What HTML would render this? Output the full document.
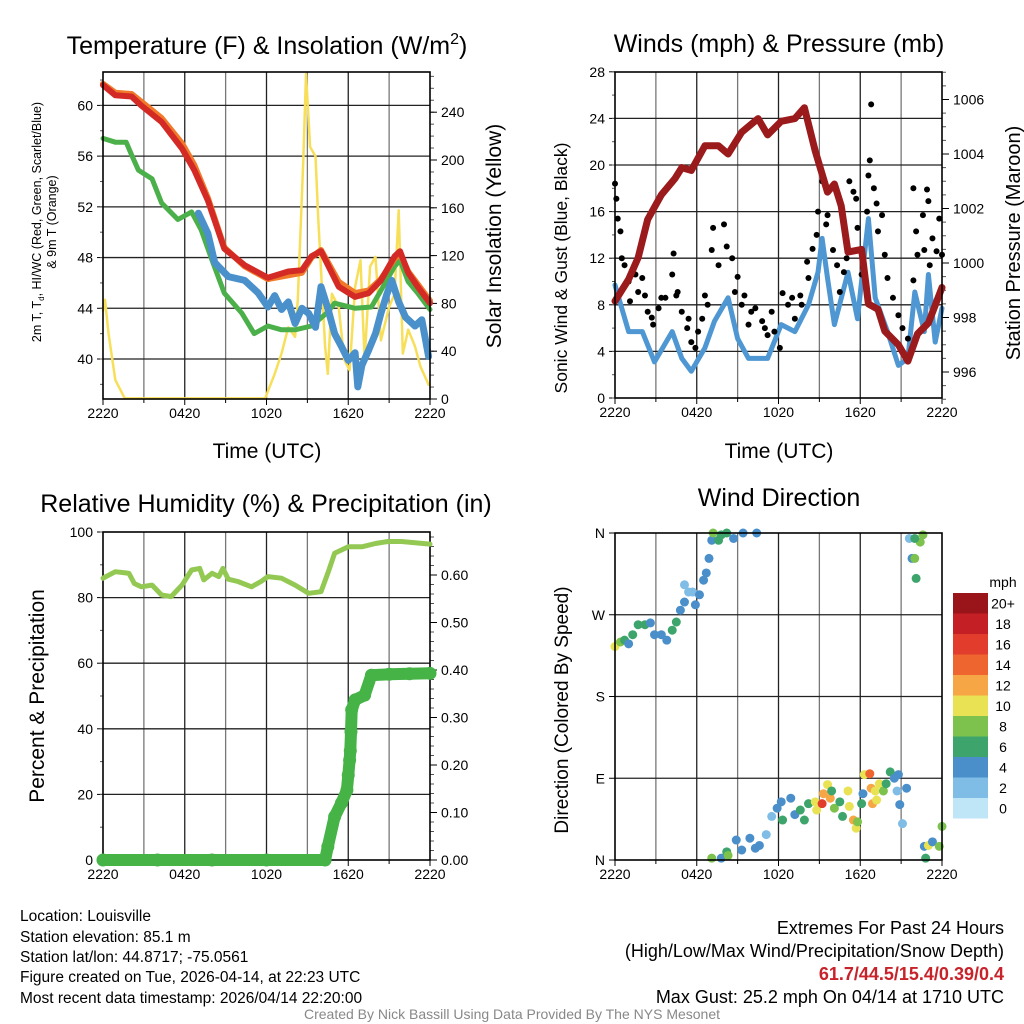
<!DOCTYPE html>
<html><head><meta charset="utf-8"><style>
html,body{margin:0;padding:0;background:#fff;}
svg{display:block;font-family:"Liberation Sans",sans-serif;}
</style></head><body>
<svg id="chart" width="1024" height="1024" viewBox="0 0 1024 1024" xmlns="http://www.w3.org/2000/svg"></svg>
<script>
// ---------- DATA ----------
const timeTickLabels = ["2220","0420","1020","1620","2220"];
// Panel 1: temperature (hours since 2220, value F)
const tempHours = [0,0.9,2.1,2.8,4.3,5.8,6.7,7.7,8.9,10.4,12.1,13.6,14.6,15.3,16.0,17.3,18.5,19.5,20.4,21.4,21.8,22.4,23.1,24];
const tempVals  = [61.6,60.8,60.7,60.0,58.7,56.6,54.9,52.5,48.7,47.4,46.4,46.9,47.0,48.1,48.5,45.7,44.9,45.2,46.2,48.1,48.5,46.8,45.7,44.4];
const temp9mVals= [61.7,61.0,60.9,60.3,59.0,57.0,55.3,52.7,48.8,47.3,46.3,46.6,46.8,48.0,48.6,46.1,45.2,45.4,46.3,47.9,48.3,46.9,45.9,44.6];
const dewHours = [0,0.9,1.7,2.1,2.6,3.6,4.3,5.5,6.5,7.2,8.0,8.9,10.2,11.1,12.1,13.1,14.1,15.3,16.5,17.0,18.5,19.7,20.4,21.4,21.8,22.4,23.1,24];
const dewVals  = [57.4,57.1,57.1,56.1,54.9,54.2,52.3,51.0,51.6,50.2,47.8,45.2,43.6,42.0,42.6,42.3,42.3,42.6,43.7,44.4,44.0,44.1,45.4,47.3,47.8,46.1,45.2,43.9];
const wcHours = [7.0,7.7,8.2,9.2,10.4,11.4,12.1,12.6,13.1,13.6,14.1,14.6,15.1,15.6,16.0,16.5,17.0,17.5,18.0,18.5,18.7,19.0,19.5,20.0,20.4,20.8,21.2,21.7,22.2,22.9,23.4,23.9];
const wcVals  = [51.5,49.9,47.6,46.5,46.2,45.2,44.1,45.0,43.9,44.5,42.8,44.0,43.6,42.5,45.7,44.0,42.0,41.0,39.9,40.5,37.8,39.5,40.7,42.0,43.6,45.0,46.2,44.5,43.3,42.6,43.1,40.2];
const solarHours = [0,0.15,0.4,0.9,1.6,11.9,12.6,13.1,13.6,14.1,14.3,14.7,14.9,15.2,15.6,15.8,16.3,16.5,16.8,17.3,17.7,18.1,18.5,18.9,19.2,19.6,20.0,20.4,21.0,21.4,21.7,22.0,22.4,22.9,23.3,23.9];
const solarVals  = [74,83,55,16,0.5,0.5,21,38,60,52,83,200,272,211,203,150,44,21,88,77,33,24,94,116,33,111,119,49,77,88,158,38,58,44,27,12];
// Panel 2: winds & pressure
const presHours = [0,1.0,1.7,2.4,3.4,4.4,4.9,5.6,6.6,7.6,8.3,9.3,10.5,11.2,12.2,13.2,13.9,14.7,15.6,16.1,16.6,17.1,18.1,18.6,19.3,19.8,20.8,21.5,22.2,23.0,24];
const presVals  = [998.6,999.4,1000.2,1001.6,1002.5,1003.1,1003.5,1003.4,1004.3,1004.3,1004.0,1004.8,1005.3,1004.7,1005.2,1005.3,1005.7,1004.1,1002.6,1002.9,1002.1,1000.4,1000.5,998.5,998.3,997.5,997.0,996.4,997.4,997.8,999.1];
const windHours = [0,0.5,1.0,2.0,2.9,4.2,4.9,5.6,6.6,7.3,8.3,9.0,9.8,11.2,12.2,13.2,14.2,14.9,15.2,15.6,16.1,17.1,17.8,18.6,19.1,20.0,20.8,21.5,22.0,22.7,23.0,23.5,24];
const windVals  = [9.7,7.7,5.7,5.7,3.1,5.7,3.4,2.3,4.3,6.6,8.6,5.1,3.4,3.4,6.3,5.7,8.0,10.8,13.7,10.3,6.3,10.8,6.8,15.4,8.6,5.7,2.8,3.4,9.1,5.7,10.6,4.8,7.7];
const gustHours = [0,0.1,0.2,0.4,0.5,0.7,1.0,1.1,1.2,1.5,1.7,2.0,2.2,2.4,2.7,2.8,3.2,3.4,3.7,4.2,4.3,4.5,4.6,4.9,5.3,5.4,5.6,5.9,6.1,6.4,6.6,6.8,7.1,7.2,7.6,8.0,8.2,8.6,8.8,9.0,9.3,9.5,9.8,10.0,10.3,10.8,11.0,11.2,11.5,11.7,12.1,12.3,12.7,13.0,13.2,13.6,13.7,14.1,14.2,14.5,14.8,14.9,15.2,15.5,15.6,16.0,16.3,16.5,16.8,17.0,17.2,17.5,17.7,17.8,18.1,18.5,18.6,18.7,18.8,19.0,19.2,19.3,19.6,19.8,20.0,20.4,20.8,21.1,21.5,21.9,21.9,22.1,22.2,22.6,22.7,22.9,23.0,23.1,23.3,23.6,23.8,24];
const gustVals  = [18.4,17.1,15.4,14.3,12.0,11.4,10.0,8.3,10.6,10.6,9.1,10.3,8.8,7.4,6.9,6.3,7.7,8.6,8.6,10.6,12.4,8.8,9.1,7.4,6.0,6.8,4.8,4.3,5.7,6.8,8.8,8.0,12.7,14.6,11.4,14.9,13.0,12.0,9.1,10.4,8.0,8.8,6.3,7.4,7.7,6.6,6.0,5.4,7.4,5.7,4.3,9.0,8.0,8.6,6.8,8.8,8.0,11.7,10.3,12.8,14.0,16.0,18.6,14.9,15.7,12.7,11.4,9.1,10.8,12.0,18.6,17.7,17.1,14.6,10.6,16.0,19.1,20.4,25.2,18.0,16.7,14.3,15.7,12.3,10.3,8.6,7.1,6.0,5.1,10.1,18.0,14.3,12.3,15.7,12.7,17.9,16.9,11.4,13.7,12.6,15.4,12.3];
// Panel 3: RH & precip
const rhHours = [0,0.9,1.9,2.3,2.8,3.6,4.3,5.0,5.8,6.5,7.1,7.4,8.0,8.5,8.8,9.2,9.9,10.9,11.6,12.1,13.1,14.1,15.1,16.0,16.5,17.0,18.0,19.0,20.0,20.9,21.9,22.9,24];
const rhVals  = [85.9,87.9,87.4,84.3,83.3,83.8,80.8,80.3,83.8,88.4,88.9,85.4,87.4,86.4,88.9,85.6,84.9,83.3,84.9,86.4,85.9,83.8,81.3,81.8,87.4,93.5,95.5,95.5,96.5,97.1,97.1,96.7,96.3];
const precipHours = [0,4,8,12,16.3,16.5,17.0,17.5,17.9,18.0,18.1,18.15,18.2,18.25,18.5,19.2,19.7,21,22.5,24];
const precipVals  = [0,0,0,0,0,0.028,0.091,0.12,0.147,0.179,0.21,0.23,0.27,0.316,0.337,0.347,0.389,0.391,0.392,0.393];
// Panel 4: wind direction (deg) colored by speed (mph)
const dirHours = [0,0.4,0.7,1.0,1.3,1.7,2.2,2.6,2.9,3.4,3.8,4.2,4.5,4.8,5.1,5.4,5.1,5.7,5.9,6.2,6.5,6.7,6.9,7.1,7.2,7.6,7.8,8.2,8.7,9.4,10.4,
  21.6,21.8,22.0,22.1,22.4,22.6,22.0,
  7.1,7.8,8.2,8.3,8.9,9.3,9.9,10.3,10.6,11.1,11.5,11.9,12.2,12.3,12.9,13.2,13.6,13.9,14.2,14.7,14.8,15.2,15.3,15.6,15.8,15.9,16.1,16.5,16.7,17.1,17.2,17.5,17.7,17.8,18.1,18.2,18.3,18.7,18.8,18.9,19.1,19.2,19.4,19.7,19.9,20.2,20.5,20.7,20.8,20.9,21.1,21.4,22.7,23.0,22.8,23.3,23.8,24];
const dirVals  = [235,240,242,238,248,259,259,261,248,248,242,253,262,275,284,295,303,295,281,292,308,316,332,352,360,352,358,360,354,360,360,
  354,332,332,310,350,358,354,
  2,2,9,5,22,11,24,13,16,28,48,57,64,44,68,50,55,44,62,64,55,62,73,83,68,76,57,64,48,76,59,44,35,42,62,73,94,95,79,62,76,66,84,76,84,97,90,76,94,61,40,79,15,16,2,20,15,37];
const dirSpeeds= [10,8,6,4,6,6,6,4,4,4,4,6,6,4,4,2,2,2,4,4,4,4,4,4,8,6,6,6,4,4,4,
  2,4,8,6,8,8,6,
  8,4,6,8,4,4,4,4,4,2,2,4,4,6,4,4,6,6,6,10,10,16,12,10,12,6,8,6,6,10,10,12,10,8,6,4,10,14,12,12,10,10,10,8,6,6,4,2,4,4,2,4,4,10,6,4,8,8];
const speedBinLabels = ["0","2","4","6","8","10","12","14","16","18","20+"];
const speedBinColors = ["#bfe6f7","#80bde6","#4a8fca","#3da56b","#7cc24c","#e9e255","#f6a644","#ee6530","#e23d2c","#c31f25","#9a1519"];

// ---------- DRAWING ----------
const svg = document.getElementById('chart');
const NS = 'http://www.w3.org/2000/svg';
function mk(tag, attrs, parent){ const e=document.createElementNS(NS,tag); for(const k in attrs) e.setAttribute(k,attrs[k]); (parent||svg).appendChild(e); return e; }
function txt(s, attrs, parent){ const e=mk('text',attrs,parent); e.textContent=s; return e; }

function setupPanel(p){
  const g = mk('g',{});
  
  
  for(let h=3; h<24; h+=3){
    const x=p.tx(h);
    const l=mk('line',{x1:x,x2:x,y1:p.top,y2:p.bot,stroke:(h%6==0)?'#222':'#777','stroke-width':1.3},g);
    
    
  }
  p.grid.forEach(v=>{
    const y=p.yL(v);
    const l=mk('line',{x1:p.x0,x2:p.x1,y1:y,y2:y,stroke:'#222','stroke-width':1.3},g);
    
    
  });
  for(let h=0; h<=24; h+=3){
    const x=p.tx(h); const len=(h%6==0)?6:4;
    const l=mk('line',{x1:x,x2:x,y1:p.bot,y2:p.bot+len,stroke:'#000','stroke-width':1},g);
    
    
  }
  timeTickLabels.forEach((s,i)=>{
    const t=txt(s,{x:p.tx(i*6),y:p.bot+19,'font-size':14,'text-anchor':'middle'},g);
    
    
  });
  p.lTicks.forEach(v=>{
    const y=p.yL(v);
    const l=mk('line',{x1:p.x0-6,x2:p.x0,y1:y,y2:y,stroke:'#000','stroke-width':1},g);
    
    
    const t=txt(p.lFmt?p.lFmt(v):String(v),{x:p.x0-10,y:y+5,'font-size':14,'text-anchor':'end'},g);
    
    
  });
  (p.lMinor||[]).forEach(v=>{
    const y=p.yL(v);
    const l=mk('line',{x1:p.x0-3,x2:p.x0,y1:y,y2:y,stroke:'#555','stroke-width':1},g);
    
    
  });
  if(p.yR){
    (p.rMinor||[]).forEach(v=>{
      const y=p.yR(v);
      const l=mk('line',{x1:p.x1,x2:p.x1+4,y1:y,y2:y,stroke:'#555','stroke-width':1},g);
      
      
    });
    p.rTicks.forEach(v=>{
      const y=p.yR(v);
      const l=mk('line',{x1:p.x1,x2:p.x1+7,y1:y,y2:y,stroke:'#000','stroke-width':1},g);
      
      
      const t=txt(p.rFmt?p.rFmt(v):String(v),{x:p.x1+11,y:y+5,'font-size':14,'text-anchor':'start'},g);
      
      
    });
  }
  return g;
}
function frameBox(p){
  const r=mk('rect',{x:p.x0,y:p.top,width:p.x1-p.x0,height:p.bot-p.top,fill:'none',stroke:'#000','stroke-width':1.6});
  
  
}
function linePath(hours, vals, tx, ty){ return hours.map((h,i)=>(i?'L':'M')+tx(h).toFixed(1)+','+ty(vals[i]).toFixed(1)).join(''); }
function range(a,b,s){ const r=[]; for(let v=a; v<=b+1e-9; v+=s) r.push(+v.toFixed(3)); return r; }

// Panel 1
const P1={name:'temperature-panel',x0:103,x1:430,top:72,bot:399};
P1.tx=h=>P1.x0+h*(P1.x1-P1.x0)/24;
P1.yL=v=>359-(v-40)*12.68;
P1.yR=w=>399-w*1.195;
P1.grid=[40,44,48,52,56,60]; P1.lTicks=[40,44,48,52,56,60]; P1.lMinor=range(38,62,2);
P1.rTicks=[0,40,80,120,160,200,240]; P1.rMinor=range(0,270,10);
setupPanel(P1);
const pl=(d,col,w,name)=>{ const e=mk('path',{d:d,fill:'none',stroke:col,'stroke-width':w,'stroke-linejoin':'round','stroke-linecap':'round'});   return e; };
pl(linePath(solarHours,solarVals,P1.tx,P1.yR),'#f7df5a',2.5,'solar-insolation-line');
pl(linePath(dewHours,dewVals,P1.tx,P1.yL),'#4bb04a',5,'dewpoint-line');
pl(linePath(wcHours,wcVals,P1.tx,P1.yL),'#4a90cb',7,'heat-index-wind-chill-line');
pl(linePath(tempHours,temp9mVals,P1.tx,P1.yL),'#f07a2a',6,'temperature-9m-line');
pl(linePath(tempHours,tempVals,P1.tx,P1.yL),'#d42a26',6,'temperature-2m-line');
frameBox(P1);

// Panel 2
const P2={name:'winds-panel',x0:615,x1:942,top:72,bot:398};
P2.tx=h=>P2.x0+h*(P2.x1-P2.x0)/24;
P2.yL=v=>398-v*11.65;
P2.yR=p=>372-(p-996)*27.25;
P2.grid=[4,8,12,16,20,24]; P2.lTicks=[0,4,8,12,16,20,24,28]; P2.lMinor=range(0,28,2);
P2.rTicks=[996,998,1000,1002,1004,1006]; P2.rMinor=range(995,1007,0.5);
setupPanel(P2);
pl(linePath(windHours,windVals,P2.tx,P2.yL),'#4e97d2',5,'sonic-wind-line');
gustHours.forEach((h,i)=>{
  const c=mk('circle',{cx:P2.tx(h),cy:P2.yL(gustVals[i]),r:3,fill:'#000'});
  
  
});
pl(linePath(presHours,presVals,P2.tx,P2.yR),'#9b1a1c',7,'station-pressure-line');
frameBox(P2);

// Panel 3
const P3={name:'humidity-panel',x0:103,x1:430,top:532,bot:860};
P3.tx=h=>P3.x0+h*(P3.x1-P3.x0)/24;
P3.yL=v=>860-v*3.28;
P3.yR=p=>860-p*475;
P3.grid=[20,40,60,80]; P3.lTicks=[0,20,40,60,80,100]; P3.lMinor=range(0,100,10);
P3.rTicks=[0,0.1,0.2,0.3,0.4,0.5,0.6]; P3.rMinor=range(0,0.68,0.02); P3.rFmt=v=>v.toFixed(2);
setupPanel(P3);
frameBox(P3);
pl(linePath(rhHours,rhVals,P3.tx,P3.yL),'#93c953',5,'relative-humidity-line');
pl(linePath(precipHours,precipVals,P3.tx,P3.yR),'#46b347',12,'precipitation-line');
precipHours.forEach((h,i)=>{
  const c=mk('circle',{cx:P3.tx(h),cy:P3.yR(precipVals[i]),r:6.5,fill:'#46b347'});
  
  
});

// Panel 4
const P4={name:'wind-direction-panel',x0:615,x1:942,top:533,bot:860};
P4.tx=h=>P4.x0+h*(P4.x1-P4.x0)/24;
P4.yL=d=>860-d*327/360;
P4.grid=[90,180,270]; P4.lTicks=[0,90,180,270,360];
P4.lFmt=v=>({0:'N',90:'E',180:'S',270:'W',360:'N'})[v];
setupPanel(P4);
dirHours.forEach((h,i)=>{
  const bin=Math.min(10,Math.max(0,Math.floor(dirSpeeds[i]/2)));
  const c=mk('circle',{cx:P4.tx(h),cy:P4.yL(dirVals[i]),r:4.5,fill:speedBinColors[bin]});
  
  
});
frameBox(P4);
const cb=mk('g',{});


const cbTop=593, cbH=20.5;
for(let i=10;i>=0;i--){
  const y=cbTop+(10-i)*cbH;
  const r=mk('rect',{x:953,y:y,width:35,height:cbH,fill:speedBinColors[i]},cb);
  
  
  const t=txt(speedBinLabels[i],{x:1003,y:y+cbH/2+5,'font-size':14,'text-anchor':'middle'},cb);
  
  
}
const cbt=txt('mph',{x:1003,y:587,'font-size':14,'text-anchor':'middle'},cb);


</script>
<div style="position:absolute;left:0;top:0;width:1024px;height:1024px;pointer-events:none;">
<svg width="1024" height="1024" style="font-family:'Liberation Sans',sans-serif">
<text x="267" y="54" font-size="25" text-anchor="middle">Temperature (F) &amp; Insolation (W/m<tspan font-size="16" dy="-10">2</tspan><tspan dy="10">)</tspan></text>
<text x="779" y="52" font-size="25" text-anchor="middle">Winds (mph) &amp; Pressure (mb)</text>
<text x="266" y="512" font-size="25" text-anchor="middle">Relative Humidity (%) &amp; Precipitation (in)</text>
<text x="779" y="506" font-size="25" text-anchor="middle">Wind Direction</text>
<text x="267" y="458" font-size="21" text-anchor="middle">Time (UTC)</text>
<text x="779" y="458" font-size="21" text-anchor="middle">Time (UTC)</text>
<text transform="translate(41,222) rotate(-90)" font-size="12.5" text-anchor="middle">2m T, T<tspan font-size="8" dy="3">d</tspan><tspan dy="-3">, HI/WC (Red, Green, Scarlet/Blue)</tspan></text>
<text transform="translate(56,222) rotate(-90)" font-size="12.5" text-anchor="middle">&amp; 9m T (Orange)</text>
<text transform="translate(501,236) rotate(-90)" font-size="21" text-anchor="middle">Solar Insolation (Yellow)</text>
<text transform="translate(567,268) rotate(-90)" font-size="17.5" text-anchor="middle">Sonic Wind &amp; Gust (Blue, Black)</text>
<text transform="translate(1020,243) rotate(-90)" font-size="20" text-anchor="middle">Station Pressure (Maroon)</text>
<text transform="translate(44,696) rotate(-90)" font-size="21" text-anchor="middle">Percent &amp; Precipitation</text>
<text transform="translate(568,710) rotate(-90)" font-size="19" text-anchor="middle">Direction (Colored By Speed)</text>
<g font-size="15.5">
<text x="20" y="921">Location: Louisville</text>
<text x="20" y="942">Station elevation: 85.1 m</text>
<text x="20" y="962">Station lat/lon: 44.8717; -75.0561</text>
<text x="20" y="982">Figure created on Tue, 2026-04-14, at 22:23 UTC</text>
<text x="20" y="1003">Most recent data timestamp: 2026/04/14 22:20:00</text>
</g>
<g font-size="18" text-anchor="end">
<text x="1004" y="934">Extremes For Past 24 Hours</text>
<text x="1004" y="957">(High/Low/Max Wind/Precipitation/Snow Depth)</text>
<text x="1004" y="980" fill="#c8232a" font-weight="bold">61.7/44.5/15.4/0.39/0.4</text>
<text x="1004" y="1003">Max Gust: 25.2 mph On 04/14 at 1710 UTC</text>
</g>
<text x="512" y="1019" font-size="14" fill="#888" text-anchor="middle">Created By Nick Bassill Using Data Provided By The NYS Mesonet</text>
</svg>
</div>
</body></html>
